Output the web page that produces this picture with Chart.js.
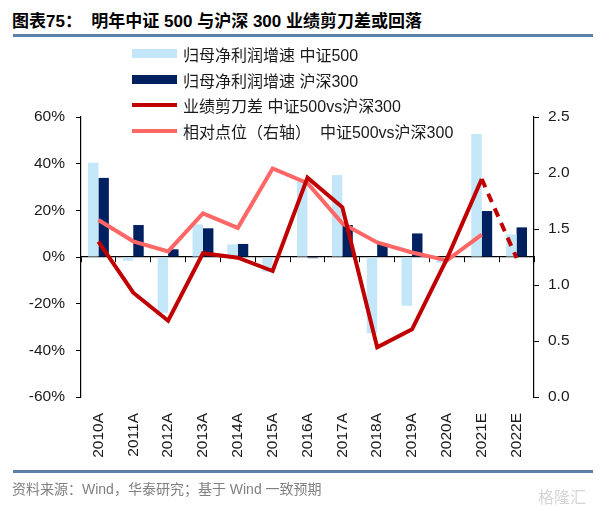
<!DOCTYPE html>
<html>
<head>
<meta charset="utf-8">
<script src="https://cdn.jsdelivr.net/npm/chart.js@4"></script>
<style>
  body { margin: 0; width: 610px; height: 511px; background: #fff; position: relative; overflow: hidden;
         font-family: "Liberation Sans", "Noto Sans CJK SC", sans-serif; }
  #title { position: absolute; left: 12px; top: 7px; font-size: 17px; font-weight: bold; color: #000; white-space: pre; }
  .rule { position: absolute; left: 13px; width: 580px; height: 3px; background: #5e80a8; }
  #source { position: absolute; left: 12px; top: 478px; font-size: 14px; color: #808080; white-space: pre; }
  #mark { position: absolute; left: 538px; top: 484px; font-size: 16px; color: #d6d6d6; }
  #chartBox { position: absolute; left: 0; top: 0; width: 610px; height: 511px; }
  #legend { position: absolute; left: 132px; top: 41px; font-size: 16px; color: #1a1a1a; }
  .item { height: 25.8px; display: flex; align-items: center; white-space: pre; }
  .sym { width: 45px; margin-right: 6px; }
</style>
</head>
<body>
<div id="title">图表75：  明年中证 500 与沪深 300 业绩剪刀差或回落</div>
<div class="rule" style="top:34px"></div>
<div id="chartBox"><canvas id="myChart" width="610" height="511"></canvas></div>
<div id="legend"></div>
<div class="rule" style="top:470px"></div>
<div id="source">资料来源：Wind，华泰研究；基于 Wind 一致预期</div>
<div id="mark">格隆汇</div>
<script>
const years = ['2010A','2011A','2012A','2013A','2014A','2015A','2016A','2017A','2018A','2019A','2020A','2021E','2022E'];
// 归母净利润增速 (%)
const zz500Growth = [40.4, -1.6, -23.9, 14.0, 5.4, -6.3, 33.0, 35.1, -32.7, -20.9, -2.5, 52.7, 9.7];
const hs300Growth = [33.9, 13.7, 3.3, 12.3, 5.6, 0, -0.5, 13.7, 5.9, 10.1, 0, 19.7, 12.7];
// 业绩剪刀差 (%)
const scissorGap = [6.6, -15.3, -27.3, 1.6, -0.3, -6.0, 34.0, 21.3, -38.7, -31.0, -0.8, 33.4, -0.4];
// 相对点位 (右轴)
const relativeLevel = [1.58, 1.39, 1.30, 1.64, 1.51, 2.04, 1.91, 1.55, 1.38, 1.29, 1.22, 1.45, null];

const lightBlue = '#c3e7f8';
const navy = '#002060';
const darkRed = '#c00000';
const pink = '#ff6666';

const legendItems = [
  { label: '归母净利润增速 中证500', color: lightBlue, bar: true },
  { label: '归母净利润增速 沪深300', color: navy, bar: true },
  { label: '业绩剪刀差 中证500vs沪深300', color: darkRed, bar: false },
  { label: '相对点位（右轴）  中证500vs沪深300', color: pink, bar: false }
];
const legendEl = document.getElementById('legend');
legendItems.forEach(it => {
  const row = document.createElement('div');
  row.className = 'item';
  const sym = document.createElement('div');
  sym.className = 'sym';
  sym.style.background = it.color;
  sym.style.height = it.bar ? '9px' : '4px';
  const txt = document.createElement('span');
  txt.textContent = it.label;
  row.appendChild(sym);
  row.appendChild(txt);
  legendEl.appendChild(row);
});

const tickFont = { family: '"Liberation Sans", Arial, sans-serif', size: 15.5 };

const data = {
  labels: years,
  datasets: [
    {
      type: 'line',
      label: '业绩剪刀差 中证500vs沪深300',
      data: scissorGap,
      yAxisID: 'y',
      xAxisID: 'x',
      borderColor: darkRed,
      backgroundColor: darkRed,
      borderWidth: 4,
      pointRadius: 0,
      tension: 0,
      order: 1,
      segment: {
        borderDash: ctx => ctx.p1DataIndex === years.length - 1 ? [9, 7] : undefined
      }
    },
    {
      type: 'line',
      label: '相对点位（右轴） 中证500vs沪深300',
      data: relativeLevel,
      yAxisID: 'y1',
      xAxisID: 'x',
      borderColor: pink,
      backgroundColor: pink,
      borderWidth: 4,
      pointRadius: 0,
      tension: 0,
      order: 2
    },
    {
      type: 'bar',
      label: '归母净利润增速 中证500',
      data: zz500Growth,
      yAxisID: 'y',
      xAxisID: 'x',
      backgroundColor: lightBlue,
      categoryPercentage: 0.6,
      barPercentage: 1,
      order: 3
    },
    {
      type: 'bar',
      label: '归母净利润增速 沪深300',
      data: hs300Growth,
      yAxisID: 'y',
      xAxisID: 'x',
      backgroundColor: navy,
      categoryPercentage: 0.6,
      barPercentage: 1,
      order: 4
    }
  ]
};

const config = {
  data,
  options: {
    responsive: false,
    animation: false,
    layout: { padding: { top: 117, left: 0, right: 0, bottom: 0 } },
    plugins: { legend: { display: false }, tooltip: { enabled: false } },
    scales: {
      x: {
        type: 'category',
        position: 'bottom',
        offset: true,
        grid: { display: false },
        border: { display: false },
        ticks: { color: '#1a1a1a', font: tickFont, minRotation: 90, maxRotation: 90, padding: 8, autoSkip: false },
        afterFit: s => { s.height = 114; }
      },
      x0: {
        type: 'category',
        position: { y: 0 },
        offset: true,
        grid: { offset: true, drawOnChartArea: false, color: '#000', tickLength: 5, tickWidth: 1 },
        border: { display: true, color: '#000', width: 1.2 },
        ticks: { display: false }
      },
      y: {
        position: 'left',
        min: -60,
        max: 60,
        ticks: { stepSize: 20, color: '#1a1a1a', font: tickFont, padding: 11, callback: v => v + '%' },
        grid: { drawOnChartArea: false, color: '#000', tickLength: 5 },
        border: { display: true, color: '#000', width: 1.2 },
        afterFit: s => { s.width = 81; }
      },
      y1: {
        position: 'right',
        min: 0,
        max: 2.5,
        ticks: { stepSize: 0.5, color: '#1a1a1a', font: tickFont, padding: 9, callback: v => v.toFixed(1) },
        grid: { drawOnChartArea: false, color: '#000', tickLength: 5 },
        border: { display: true, color: '#000', width: 1.2 },
        afterFit: s => { s.width = 76; }
      }
    }
  }
};

const myChart = new Chart(document.getElementById('myChart'), config);
</script>
</body>
</html>
